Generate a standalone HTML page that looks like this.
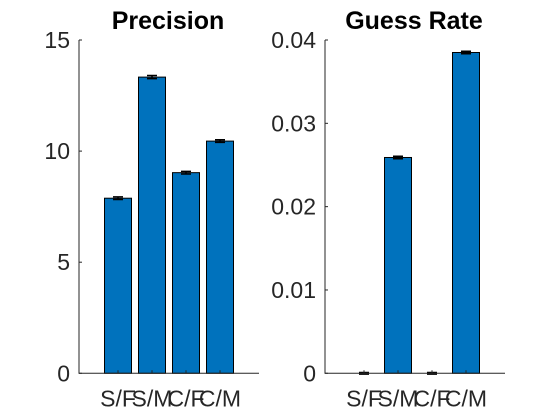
<!DOCTYPE html>
<html><head><meta charset="utf-8"><style>
html,body{margin:0;padding:0;background:#fff;}
svg{display:block;font-family:"Liberation Sans",Arial,sans-serif;}
</style></head><body>
<svg id="chart" width="560" height="420"></svg>
<script>
const categories = ["S/F","S/M","C/F","C/M"];
const precisionValues = [7.88, 13.33, 9.03, 10.45];
const precisionErr = [0.06, 0.07, 0.06, 0.06];
const guessValues = [0.0, 0.0259, 0.0, 0.0385];
const guessErr = [0.0001, 0.00015, 0.0001, 0.00015];
const precisionTicks = [0, 5, 10, 15];
const guessTicks = [0, 0.01, 0.02, 0.03, 0.04];
const guessTickLabels = ["0","0.01","0.02","0.03","0.04"];

const NS = "http://www.w3.org/2000/svg";
const svg = document.getElementById("chart");
function mk(tag, attrs, parent){
  const e = document.createElementNS(NS, tag);
  for (const k in attrs) e.setAttribute(k, attrs[k]);
  (parent||svg).appendChild(e);
  return e;
}
function panel(name, left, yMax, values, errs, ticks, tickLabels, title){
  const top = 40, bottom = 373.3, width = 180;
  const g = mk("g", {});
  
  
  const y = v => bottom - (v / yMax) * (bottom - top);
  const x = i => left + 39 + i * 34;
  values.forEach((v, i) => {
    const r = mk("rect", {x: x(i) - 13.5, y: y(v), width: 27, height: Math.max(0, bottom - y(v)), fill: "#0072BD", stroke: "#000", "stroke-width": 1}, g);
    
    
    const e = errs[i];
    const eb = mk("path", {d: `M${x(i)},${y(v+e)}V${y(v-e)}M${x(i)-5},${y(v+e)}H${x(i)+5}M${x(i)-5},${y(v-e)}H${x(i)+5}`, stroke: "#000", "stroke-width": 1.5, fill: "none"}, g);
    
    
  });
  const ax = mk("path", {d: `M${left},${top}V${bottom}H${left+width}`, stroke: "#262626", "stroke-width": 1, fill: "none"}, g);
  
  
  ticks.forEach((t, i) => {
    mk("line", {x1: left, x2: left + 3, y1: y(t), y2: y(t), stroke: "#262626"}, g);
    const tl = mk("text", {x: left - 9, y: y(t) + 8, "text-anchor": "end", "font-size": 23, fill: "#262626"}, g);
    tl.textContent = tickLabels[i];
    
    
  });
  categories.forEach((c, i) => {
    mk("line", {x1: x(i), x2: x(i), y1: bottom, y2: bottom - 3, stroke: "#262626"}, g);
    const xl = mk("text", {x: x(i), y: bottom + 33, "text-anchor": "middle", "font-size": 23, fill: "#262626"}, g);
    xl.textContent = c;
    
    
  });
  const tt = mk("text", {x: left + 89, y: 29, "text-anchor": "middle", "font-size": 25, "font-weight": "bold", fill: "#000"}, g);
  tt.textContent = title;
  
  
}
panel("precision", 79, 15, precisionValues, precisionErr, precisionTicks, precisionTicks.map(String), "Precision");
panel("guess-rate", 325, 0.04, guessValues, guessErr, guessTicks, guessTickLabels, "Guess Rate");
</script>
</body></html>
